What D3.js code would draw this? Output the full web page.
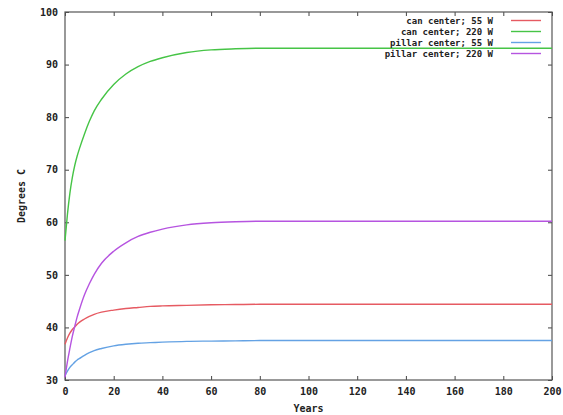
<!DOCTYPE html>
<html>
<head>
<meta charset="utf-8">
<script src="https://cdn.jsdelivr.net/npm/d3@7"></script>
<style>
 body { margin: 0; background: #fff; }
 text { font-family: "DejaVu Sans Mono", "Liberation Mono", monospace; font-weight: bold; font-size: 9px; fill: #222; }
</style>
</head>
<body>
<div id="chart"></div>
<script>
// years sampled along the curves
var years = [0, 1, 2, 3, 4, 5, 6, 8, 10, 12, 15, 20, 25, 30, 35, 40, 50, 60, 70, 80, 100, 120, 140, 160, 180, 200];

// series values (degrees C)
var canCenter55 = [36.8, 38.0, 38.9, 39.6, 40.1, 40.6, 41.0, 41.6, 42.1, 42.5, 42.9, 43.3, 43.6, 43.8, 44.0, 44.1, 44.2, 44.3, 44.35, 44.4, 44.4, 44.4, 44.4, 44.4, 44.4, 44.4];
var canCenter220 = [56.5, 61.5, 65.5, 68.5, 70.8, 72.6, 74.1, 76.8, 79.2, 81.2, 83.4, 86.2, 88.2, 89.6, 90.6, 91.3, 92.3, 92.8, 93.0, 93.1, 93.1, 93.1, 93.1, 93.1, 93.1, 93.1];
var pillarCenter55 = [30.8, 31.7, 32.4, 32.9, 33.4, 33.8, 34.1, 34.7, 35.2, 35.6, 36.0, 36.5, 36.8, 37.0, 37.1, 37.2, 37.35, 37.4, 37.45, 37.5, 37.5, 37.5, 37.5, 37.5, 37.5, 37.5];
var pillarCenter220 = [30.5, 33.5, 36.0, 38.3, 40.2, 42.0, 43.5, 46.2, 48.3, 50.1, 52.2, 54.5, 56.1, 57.3, 58.1, 58.7, 59.5, 59.9, 60.1, 60.2, 60.2, 60.2, 60.2, 60.2, 60.2, 60.2];

var seriesNames = ['can center; 55 W', 'can center; 220 W', 'pillar center; 55 W', 'pillar center; 220 W'];
var seriesValues = [canCenter55, canCenter220, pillarCenter55, pillarCenter220];
var seriesColors = ['#e65a62', '#46c446', '#64a2e4', '#b654e0'];

var xTicks = [0, 20, 40, 60, 80, 100, 120, 140, 160, 180, 200];
var yTicks = [30, 40, 50, 60, 70, 80, 90, 100];

// layout
var width = 563, height = 415;
var plot = {left: 65, right: 552, top: 12, bottom: 380};

var svg = d3.select('#chart').append('svg')
 .attr('width', width)
 .attr('height', height);

svg.append('rect').attr('width', width).attr('height', height).style('fill', '#fff');

var x = d3.scaleLinear().domain([0, 200]).range([plot.left, plot.right]);
var y = d3.scaleLinear().domain([30, 100]).range([plot.bottom, plot.top]);

// axes, gnuplot style: inward ticks mirrored on all four sides
var tickLen = 4;
var axisLayer = svg.append('g');

axisLayer.append('g')
 .attr('transform', 'translate(0,' + plot.bottom + ')')
 .call(d3.axisBottom(x).tickValues(xTicks).tickSizeInner(-tickLen).tickSizeOuter(0).tickPadding(8));
axisLayer.append('g')
 .attr('transform', 'translate(0,' + plot.top + ')')
 .call(d3.axisTop(x).tickValues(xTicks).tickSizeInner(-tickLen).tickSizeOuter(0).tickFormat(''));
axisLayer.append('g')
 .attr('transform', 'translate(' + plot.left + ',0)')
 .call(d3.axisLeft(y).tickValues(yTicks).tickSizeInner(-tickLen).tickSizeOuter(0).tickPadding(7));
axisLayer.append('g')
 .attr('transform', 'translate(' + plot.right + ',0)')
 .call(d3.axisRight(y).tickValues(yTicks).tickSizeInner(-tickLen).tickSizeOuter(0).tickFormat(''));

axisLayer.selectAll('.domain').remove();
axisLayer.selectAll('.tick line').style('stroke', '#444');
axisLayer.selectAll('.tick text')
 .style('font-family', '"DejaVu Sans Mono", monospace')
 .style('font-weight', 'bold')
 .style('font-size', '10px')
 .style('fill', '#222');

// border
svg.append('rect')
 .attr('x', plot.left).attr('y', plot.top)
 .attr('width', plot.right - plot.left)
 .attr('height', plot.bottom - plot.top)
 .style('fill', 'none')
 .style('stroke', '#555')
 .style('stroke-width', 1.2);

// axis titles
svg.append('text')
 .attr('transform', 'translate(25,' + ((plot.top + plot.bottom) / 2) + ') rotate(-90)')
 .attr('text-anchor', 'middle')
 .style('font-size', '10px')
 .text('Degrees C');
svg.append('text')
 .attr('x', (plot.left + plot.right) / 2)
 .attr('y', 412)
 .attr('text-anchor', 'middle')
 .style('font-size', '10px')
 .text('Years');

// curves
var line = d3.line()
 .x(function(d, i){ return x(years[i]); })
 .y(function(d){ return y(d); })
 .curve(d3.curveMonotoneX);

var lineLayer = svg.append('g');
seriesValues.forEach(function(vals, k)
{
 lineLayer.append('path')
  .datum(vals)
  .attr('d', line)
  .style('fill', 'none')
  .style('stroke', seriesColors[k])
  .style('stroke-width', 1.4);
});

// legend, top right
var legend = svg.append('g');
seriesNames.forEach(function(name, k)
{
 var ly = 20.5 + k * 11;
 legend.append('text')
  .attr('x', 493)
  .attr('y', ly + 3)
  .attr('text-anchor', 'end')
  .text(name);
 legend.append('line')
  .attr('x1', 511).attr('x2', 541)
  .attr('y1', ly).attr('y2', ly)
  .style('stroke', seriesColors[k])
  .style('stroke-width', 1.4);
});
</script>
</body>
</html>
